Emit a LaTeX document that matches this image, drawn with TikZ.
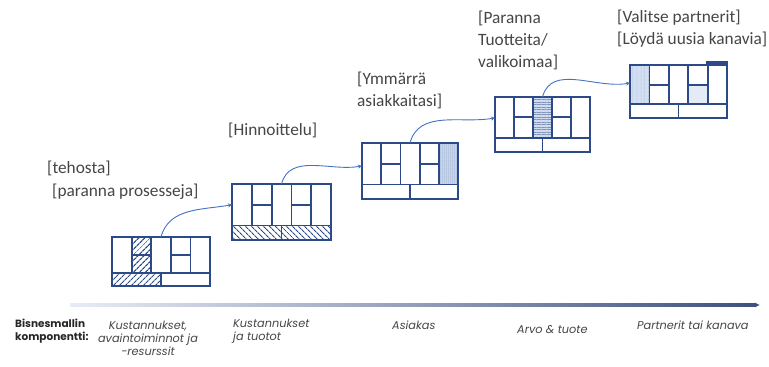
\documentclass[tikz,border=0pt]{standalone}
\usepackage{fontspec}
\setmainfont{Carlito}
\newfontfamily\gothic{Poppins}
\usetikzlibrary{patterns.meta,arrows.meta,calc}
\definecolor{bmcblue}{RGB}{44,74,135}
\definecolor{lightfill}{RGB}{210,222,242}
\definecolor{arrowblue}{RGB}{68,114,196}
\definecolor{labelgray}{RGB}{70,70,70}
\definecolor{axisdark}{RGB}{62,80,125}
\definecolor{axislight}{RGB}{232,236,245}
\definecolor{axismid}{RGB}{140,160,200}

\tikzset{
  canvasbox/.style={inner sep=0pt, outer sep=0pt, fill=white},
  outerline/.style={draw=bmcblue, line width=2.3pt},
  innerline/.style={draw=bmcblue, line width=1.8pt},
  flow/.style={draw=arrowblue, line width=0.9pt, -{Stealth[length=4pt,width=4pt]}},
  toplabel/.style={text=labelgray, font=\fontsize{17.3}{22}\selectfont, inner sep=0pt, align=left},
  botlabel/.style={text=labelgray, font=\gothic\itshape\fontsize{11.3}{13}\selectfont, inner sep=0pt},
  boldlabel/.style={text=black!85, font=\gothic\bfseries\fontsize{10.5}{12.5}\selectfont, inner sep=0pt, align=left},
  hatchne/.style={pattern={Lines[angle=45,distance=4pt,line width=1.2pt]}, pattern color=bmcblue},
  hatchnw/.style={pattern={Lines[angle=-45,distance=4pt,line width=1.2pt]}, pattern color=bmcblue},
  dotsfill/.style={pattern={Dots[radius=0.5pt,distance=2pt]}, pattern color=bmcblue!80},
  hlines/.style={pattern={Lines[angle=0,distance=2.5pt,line width=0.35pt]}, pattern color=bmcblue!60},
  vlinesA/.style={pattern={Lines[angle=90,distance=4pt,line width=0.35pt]}, pattern color=bmcblue!60},
}

\newcommand\bmcanvas[6]{%
  \node[canvasbox, minimum width=#4pt, minimum height=#5pt, anchor=north west] (#1) at (#2,#3) {};
  \begin{scope}[shift={(#1.north west)}, x=#4pt, y=-#5pt]
    #6
    \draw[innerline] (0,0.74) -- (1,0.74) (0.5,0.74) -- (0.5,1);
    \foreach \c in {0.2,0.4,0.6,0.8} {\draw[innerline] (\c,0) -- (\c,0.74);}
    \draw[innerline] (0.2,0.37) -- (0.4,0.37) (0.6,0.37) -- (0.8,0.37);
    \draw[outerline] (0,0) rectangle (1,1);
  \end{scope}}

\begin{document}
\begin{tikzpicture}[x=1pt,y=-1pt]
\useasboundingbox[fill=white] (0,0) rectangle (769,367);

% canvases
\bmcanvas{c1}{112}{237}{98}{49}{%
  \fill[hatchne] (0.2,0) rectangle (0.4,0.74);
  \fill[hatchne] (0,0.74) rectangle (0.5,1);}
\bmcanvas{c2}{232}{184}{99}{56}{%
  \fill[hatchnw] (0,0.74) rectangle (1,1);}
\bmcanvas{c3}{362}{143}{96}{56}{%
  \fill[lightfill] (0.8,0) rectangle (1,0.74);
  \fill[dotsfill] (0.8,0) rectangle (1,0.74);}
\bmcanvas{c4}{495}{97}{95}{55}{%
  \fill[lightfill] (0.4,0) rectangle (0.6,0.74);
  \fill[hlines] (0.4,0) rectangle (0.6,0.74);
  \fill[vlinesA] (0.4,0) rectangle (0.6,0.74);}
\bmcanvas{c5}{630}{65}{97}{53}{%
  \fill[lightfill] (0,0) rectangle (0.2,0.74);
  \fill[vlinesA] (0,0) rectangle (0.2,0.74);
  \fill[lightfill!60!white] (0.6,0.37) rectangle (0.8,0.74);
  \draw[outerline] (0.8,0) -- (0.8,-0.05) -- (1,-0.05) -- (1,0);}

% flow arrows
\draw[flow] (c1.north) to[out=75,in=190] ($(c2.north west)!0.37!(c2.south west)$);
\draw[flow] (c2.north) to[out=75,in=190] ($(c3.north west)!0.41!(c3.south west)$);
\draw[flow] (c3.north) to[out=75,in=190] ($(c4.north west)!0.38!(c4.south west)$);
\draw[flow] (c4.north) to[out=75,in=190] ($(c5.north west)!0.34!(c5.south west)$);

% top labels
\node[toplabel, anchor=west] (t1) at (47,168) {[tehosta]};
\node[toplabel, anchor=west] (t2) at (52,192) {[paranna prosesseja]};
\node[toplabel, anchor=west] (t3) at (228,130) {[Hinnoittelu]};
\node[toplabel, anchor=west] (t4) at (357,90) {[Ymmärrä\\asiakkaitasi]};
\node[toplabel, anchor=west] (t5) at (478,40) {[Paranna\\Tuotteita/\\valikoimaa]};
\node[toplabel, anchor=west] (t6) at (617,28.5) {[Valitse partnerit]\\{}[Löydä uusia kanavia]};

% axis
\coordinate (axL) at (70,305);
\coordinate (axR) at (760,305);
\shade[left color=axislight, middle color=axismid, right color=axisdark]
  ($(axL)+(0,-1.5)$) rectangle ($(axR)+(-4,1.5)$);
\draw[axisdark, line width=1pt, -{Latex[length=5pt,width=5pt]}] ($(axR)+(-5,0)$) -- (axR);

% bottom labels
\node[boldlabel, anchor=west] (b0) at (15,331) {Bisnesmallin\\komponentti:};
\node[botlabel, align=center] (b1) at (148,338) {Kustannukset,\\avaintoiminnot ja\\-resurssit};
\node[botlabel, align=left, anchor=west] (b2) at (233,331) {Kustannukset\\ja tuotot};
\node[botlabel, anchor=west] (b3) at (392,325) {Asiakas};
\node[botlabel, anchor=west] (b4) at (517,330) {Arvo \& tuote};
\node[botlabel, anchor=west] (b5) at (637,325) {Partnerit tai kanava};
\end{tikzpicture}
\end{document}
